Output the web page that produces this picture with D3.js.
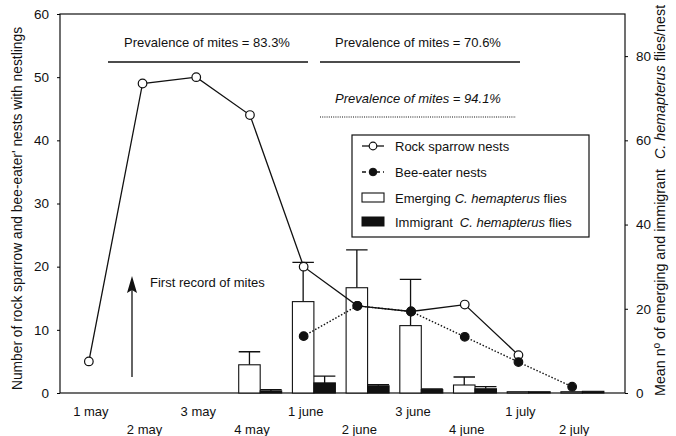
<!DOCTYPE html>
<html>
<head>
<meta charset="utf-8">
<script src="https://cdn.jsdelivr.net/npm/d3@7"></script>
<style>
  body { margin: 0; background: #fff; }
  text { font-family: "Liberation Sans", Arial, sans-serif; fill: #111; }
</style>
</head>
<body>
<script>
/*
DATA
*/
const periods = ["1 may", "2 may", "3 may", "4 may", "1 june", "2 june", "3 june", "4 june", "1 july", "2 july"]
const rockSparrow = [5, 49, 50, 44, 20, 13.8, 12.9, 14, 6, null]
const beeEater = [null, null, null, null, 9, 13.8, 12.9, 8.9, 4.9, 1]
const emerging = [null, null, null, 6.7, 21.7, 25, 16, 1.9, 0.3, 0.3]
const emergingErr = [null, null, null, 3.1, 9.3, 9, 11, 1.9, null, null]
const immigrant = [null, null, null, 0.5, 2.4, 1.7, 0.8, 1.0, 0.3, 0.4]
const immigrantErr = [null, null, null, 0.3, 1.6, 0.3, 0.2, 0.5, null, null]
const leftTicks = [0, 10, 20, 30, 40, 50, 60]
const rightTicks = [0, 20, 40, 60, 80]
const prevalence = ["Prevalence of mites = 83.3%", "Prevalence of mites = 70.6%", "Prevalence of mites = 94.1%"]

/*
SET UP
*/
const w = 676
const h = 436
const m = ({top: 14, right: 51, bottom: 43, left: 60})

const svg = d3.select("body")
  .append("svg")
  .attr("width", w)
  .attr("height", h);

const x = d3.scaleBand()
  .domain(periods)
  .range([62, 599]);

const yLeft = d3.scaleLinear()
  .domain([0, 60])
  .range([h - m.bottom, m.top]);

const yRight = d3.scaleLinear()
  .domain([0, 90])
  .range([h - m.bottom, m.top]);

const cx = (p) => x(p) + x.bandwidth() / 2
const bw = x.bandwidth() * 0.4

/*
FRAME & AXES
*/
svg.append("rect")
  .attr("x", m.left)
  .attr("y", m.top)
  .attr("width", w - m.left - m.right)
  .attr("height", h - m.top - m.bottom)
  .attr("fill", "none")
  .attr("stroke", "#111")
  .attr("stroke-width", 1.2);

const axL = svg.append("g")
  .attr("transform", `translate(${m.left},0)`)
  .call(d3.axisLeft(yLeft).tickValues(leftTicks).tickSize(3).tickPadding(8));
axL.select(".domain").remove();
axL.selectAll("text").style("font-size", "13.5px").attr("font-family", "Liberation Sans, Arial");

const axR = svg.append("g")
  .attr("transform", `translate(${w - m.right},0)`)
  .call(d3.axisRight(yRight).tickValues(rightTicks).tickSize(3).tickPadding(8));
axR.select(".domain").remove();
axR.selectAll("text").style("font-size", "13.5px").attr("font-family", "Liberation Sans, Arial");

svg.selectAll(".xlab")
  .data(periods)
  .join("text")
  .attr("class", "xlab")
  .attr("x", (d) => cx(d) + 2)
  .attr("y", (d, i) => i % 2 === 0 ? 416 : 434)
  .attr("text-anchor", "middle")
  .style("font-size", "13px")
  .text((d) => d);

svg.append("text")
  .attr("transform", `translate(22,${(h - m.bottom + 24) / 2}) rotate(-90)`)
  .attr("text-anchor", "middle")
  .style("font-size", "13.8px")
  .text("Number of rock sparrow and bee-eater' nests with nestlings");

const rLab = svg.append("text")
  .attr("transform", `translate(665,396) rotate(-90)`)
  .attr("text-anchor", "start")
  .style("font-size", "14.3px");
rLab.append("tspan").text("Mean nº of emerging and immigrant");
rLab.append("tspan").attr("dx", 10).style("font-style", "italic").text("C. hemapterus");
rLab.append("tspan").text(" flies/nest");

/*
BARS (right axis)
*/
function makeBars(values, errs, offset, fill, cls) {
  const rows = periods.map((p, i) => ({p: p, v: values[i], e: errs[i]})).filter((d) => d.v != null)

  svg.selectAll(".err-" + cls)
    .data(rows.filter((d) => d.e != null))
    .join("path")
    .attr("class", "err-" + cls)
    .attr("d", (d) => {
      const x0 = cx(d.p) + offset
      const xm = x0 + bw / 2
      return `M${xm},${yRight(d.v)}V${yRight(d.v + d.e)}M${x0},${yRight(d.v + d.e)}H${x0 + bw}`
    })
    .attr("stroke", "#111")
    .attr("stroke-width", 1.3)
    .attr("fill", "none");

  svg.selectAll(".bar-" + cls)
    .data(rows)
    .join("rect")
    .attr("class", "bar-" + cls)
    .attr("x", (d) => cx(d.p) + offset)
    .attr("y", (d) => yRight(d.v))
    .attr("width", bw)
    .attr("height", (d) => yRight(0) - yRight(d.v))
    .attr("fill", fill)
    .attr("stroke", "#111")
    .attr("stroke-width", 1.1);
}

makeBars(emerging, emergingErr, -bw / 2 - 0.5, "#fff", "em")
makeBars(immigrant, immigrantErr, bw / 2 - 0.5, "#111", "im")

/*
LINES (left axis)
*/
function makeLine(values, dash, fill, cls) {
  const rows = periods.map((p, i) => ({p: p, v: values[i]})).filter((d) => d.v != null)
  const line = d3.line()
    .x((d) => cx(d.p))
    .y((d) => yLeft(d.v));

  svg.append("path")
    .datum(rows)
    .attr("d", line)
    .attr("fill", "none")
    .attr("stroke", "#111")
    .attr("stroke-width", dash ? 1.4 : 1.3)
    .attr("stroke-dasharray", dash);

  svg.selectAll(".pt-" + cls)
    .data(rows)
    .join("circle")
    .attr("class", "pt-" + cls)
    .attr("cx", (d) => cx(d.p))
    .attr("cy", (d) => yLeft(d.v))
    .attr("r", 4.3)
    .attr("fill", fill)
    .attr("stroke", "#111")
    .attr("stroke-width", 1.2);
}

makeLine(rockSparrow, null, "#fff", "rs")
makeLine(beeEater, "1.5,1.8", "#111", "be")

/*
ANNOTATIONS
*/
svg.append("text").attr("x", 207).attr("y", 47).attr("text-anchor", "middle")
  .style("font-size", "13px").text(prevalence[0]);
svg.append("line").attr("x1", 108).attr("x2", 308).attr("y1", 62).attr("y2", 62)
  .attr("stroke", "#111").attr("stroke-width", 1.3);

svg.append("text").attr("x", 418).attr("y", 47).attr("text-anchor", "middle")
  .style("font-size", "13px").text(prevalence[1]);
svg.append("line").attr("x1", 320).attr("x2", 520).attr("y1", 62).attr("y2", 62)
  .attr("stroke", "#111").attr("stroke-width", 1.3);

svg.append("text").attr("x", 418).attr("y", 103).attr("text-anchor", "middle")
  .style("font-size", "13px").style("font-style", "italic").text(prevalence[2]);
svg.append("line").attr("x1", 320).attr("x2", 516).attr("y1", 117).attr("y2", 117)
  .attr("stroke", "#111").attr("stroke-width", 1.2).attr("stroke-dasharray", "1,1.2");

// arrow "first record"
svg.append("line")
  .attr("x1", 132).attr("x2", 132)
  .attr("y1", 377).attr("y2", 288)
  .attr("stroke", "#111").attr("stroke-width", 1.3);
svg.append("path")
  .attr("d", "M132,276L137,293L132,290L127,293Z")
  .attr("fill", "#111");

svg.append("text").attr("x", 150).attr("y", 287)
  .style("font-size", "13px").text("First record of mites");

/*
LEGEND
*/
const lg = svg.append("g");
lg.append("rect")
  .attr("x", 352).attr("y", 135).attr("width", 237).attr("height", 102)
  .attr("fill", "#fff").attr("stroke", "#111").attr("stroke-width", 1.2);

const legendItems = ["Rock sparrow nests", "Bee-eater nests", "Emerging", "Immigrant"]
const ly = [146, 172, 198, 222]

lg.append("line").attr("x1", 362).attr("x2", 384).attr("y1", ly[0]).attr("y2", ly[0])
  .attr("stroke", "#111").attr("stroke-width", 1.3);
lg.append("circle").attr("cx", 373).attr("cy", ly[0]).attr("r", 3.8)
  .attr("fill", "#fff").attr("stroke", "#111").attr("stroke-width", 1.2);

lg.append("line").attr("x1", 362).attr("x2", 384).attr("y1", ly[1]).attr("y2", ly[1])
  .attr("stroke", "#111").attr("stroke-width", 1.3).attr("stroke-dasharray", "4,3");
lg.append("circle").attr("cx", 373).attr("cy", ly[1]).attr("r", 3.8)
  .attr("fill", "#111").attr("stroke", "#111");

lg.append("rect").attr("x", 362).attr("y", ly[2] - 5).attr("width", 22).attr("height", 9)
  .attr("fill", "#fff").attr("stroke", "#111").attr("stroke-width", 1.1);
lg.append("rect").attr("x", 362).attr("y", ly[3] - 5).attr("width", 22).attr("height", 9)
  .attr("fill", "#111").attr("stroke", "#111");

lg.selectAll(".ltext")
  .data(legendItems)
  .join("text")
  .attr("class", "ltext")
  .attr("x", 395)
  .attr("y", (d, i) => ly[i] + 4.5)
  .style("font-size", "13px")
  .each(function(d, i) {
    const t = d3.select(this)
    if (i < 2) {
      t.text(d)
    } else {
      t.append("tspan").text(d)
      t.append("tspan").attr("dx", i === 3 ? 7 : 4).style("font-style", "italic").text("C. hemapterus")
      t.append("tspan").text(" flies")
    }
  });
</script>
</body>
</html>
